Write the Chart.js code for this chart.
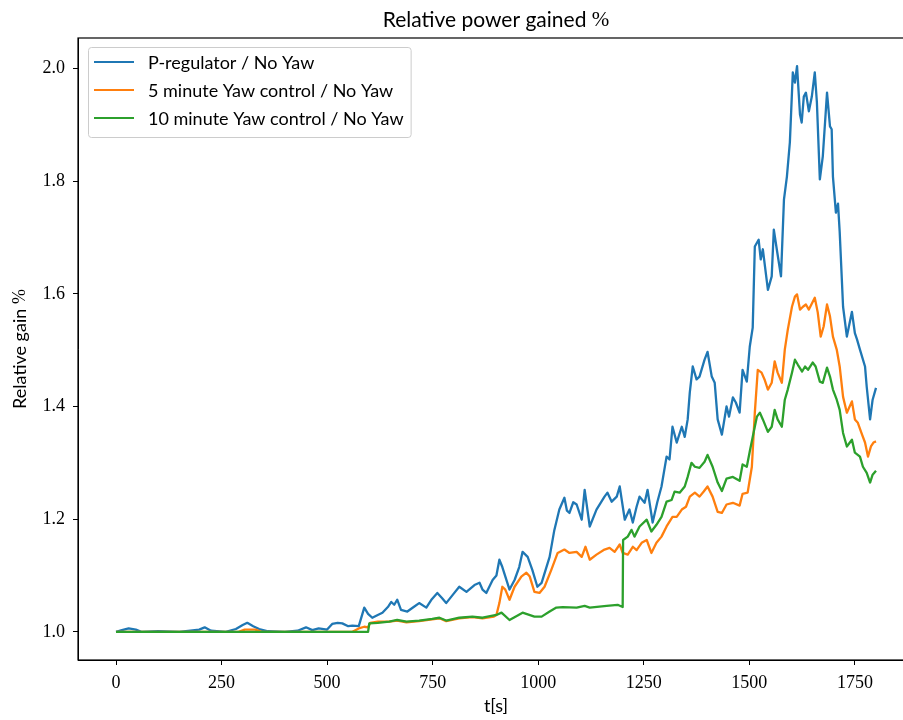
<!DOCTYPE html>
<html>
<head>
<meta charset="utf-8">
<title>Relative power gained</title>
<script src="https://cdn.jsdelivr.net/npm/chart.js@4.4.1/dist/chart.umd.min.js"></script>
<style>
  html, body { margin: 0; padding: 0; background: #fff; overflow: hidden; }
  #wrap { width: 916px; height: 720px; }
</style>
</head>
<body>
<div id="wrap"><canvas id="gainChart" width="916" height="720"></canvas></div>
<script>
// P-regulator / No Yaw
const tP = [0, 14, 30, 47, 60, 100, 150, 197, 210, 225, 260, 284, 300, 311, 325, 339, 360, 400, 430, 450,
  465, 480, 500, 512, 525, 536, 550, 560, 575, 588, 597, 607, 620, 631, 645, 652, 659, 666, 675, 690,
  705, 718, 735, 748, 761, 772, 782, 798, 813, 830, 849, 861, 868, 877, 892, 901, 908, 915, 932, 944,
  955, 963, 975, 986, 998, 1008, 1027, 1038, 1050, 1062, 1068, 1074, 1083, 1091, 1103, 1110, 1122, 1138, 1157, 1164,
  1174, 1186, 1193, 1205, 1216, 1224, 1233, 1240, 1252, 1259, 1271, 1282, 1292, 1304, 1311, 1318, 1328, 1340, 1347, 1354,
  1359, 1366, 1375, 1382, 1394, 1401, 1411, 1418, 1425, 1435, 1446, 1452, 1461, 1468, 1477, 1484, 1494, 1501, 1508, 1513,
  1522, 1527, 1532, 1544, 1553, 1558, 1565, 1575, 1582, 1589, 1596, 1603, 1608, 1613, 1620, 1624, 1629, 1634, 1641, 1648,
  1655, 1660, 1667, 1674, 1684, 1691, 1695, 1698, 1705, 1710, 1714, 1722, 1731, 1743, 1750, 1755, 1762, 1774, 1778, 1786,
  1792, 1800];
const gainP = [1.000, 1.003, 1.006, 1.004, 1.000, 1.001, 1.000, 1.004, 1.008, 1.002, 1.000, 1.005, 1.012, 1.016, 1.010, 1.005, 1.001, 1.000, 1.002, 1.008,
  1.003, 1.006, 1.004, 1.014, 1.016, 1.015, 1.010, 1.011, 1.010, 1.043, 1.032, 1.025, 1.030, 1.034, 1.045, 1.053, 1.048, 1.057, 1.039, 1.036,
  1.044, 1.051, 1.043, 1.058, 1.069, 1.060, 1.051, 1.066, 1.080, 1.071, 1.083, 1.087, 1.075, 1.069, 1.092, 1.100, 1.128, 1.115, 1.075, 1.092,
  1.115, 1.142, 1.133, 1.110, 1.080, 1.087, 1.133, 1.180, 1.217, 1.238, 1.215, 1.211, 1.230, 1.226, 1.199, 1.252, 1.187, 1.217, 1.240, 1.247,
  1.231, 1.240, 1.258, 1.199, 1.217, 1.194, 1.222, 1.240, 1.229, 1.252, 1.194, 1.230, 1.258, 1.311, 1.306, 1.364, 1.336, 1.364, 1.346, 1.377,
  1.425, 1.471, 1.448, 1.453, 1.483, 1.497, 1.453, 1.442, 1.377, 1.350, 1.400, 1.382, 1.416, 1.407, 1.389, 1.465, 1.444, 1.506, 1.540, 1.684,
  1.696, 1.661, 1.679, 1.607, 1.631, 1.714, 1.679, 1.631, 1.767, 1.808, 1.869, 1.993, 1.975, 2.004, 1.918, 1.904, 1.950, 1.957, 1.924, 1.950,
  1.993, 1.940, 1.803, 1.844, 1.957, 1.897, 1.892, 1.808, 1.744, 1.760, 1.710, 1.577, 1.524, 1.568, 1.530, 1.519, 1.501, 1.471, 1.435, 1.377,
  1.412, 1.433];

// 5 minute Yaw control / No Yaw
const t5 = [0, 290, 305, 330, 345, 560, 575, 588, 597, 602, 620, 647, 666, 688, 718, 749, 766, 782, 813, 844,
  868, 895, 901, 908, 915, 922, 932, 944, 960, 972, 980, 991, 1003, 1015, 1031, 1046, 1062, 1074, 1091, 1103,
  1112, 1122, 1138, 1157, 1169, 1181, 1193, 1200, 1212, 1224, 1233, 1245, 1257, 1268, 1280, 1292, 1304, 1318, 1328, 1340,
  1350, 1359, 1371, 1382, 1392, 1401, 1413, 1425, 1435, 1446, 1461, 1477, 1484, 1496, 1506, 1513, 1520, 1529, 1536, 1544,
  1553, 1560, 1567, 1577, 1584, 1591, 1601, 1608, 1613, 1620, 1627, 1634, 1641, 1655, 1662, 1669, 1676, 1684, 1691, 1698,
  1707, 1714, 1722, 1731, 1743, 1750, 1757, 1767, 1774, 1781, 1788, 1794, 1800];
const gain5 = [1.000, 1.000, 1.004, 1.004, 1.000, 1.000, 1.006, 1.009, 1.008, 1.016, 1.018, 1.018, 1.020, 1.017, 1.019, 1.022, 1.024, 1.019, 1.024, 1.026,
  1.024, 1.027, 1.030, 1.051, 1.080, 1.075, 1.057, 1.080, 1.098, 1.105, 1.098, 1.071, 1.069, 1.080, 1.110, 1.140, 1.146, 1.140, 1.142, 1.133,
  1.151, 1.128, 1.137, 1.146, 1.149, 1.142, 1.155, 1.140, 1.137, 1.151, 1.145, 1.158, 1.163, 1.140, 1.158, 1.169, 1.187, 1.204, 1.204, 1.217,
  1.222, 1.240, 1.247, 1.240, 1.249, 1.258, 1.240, 1.213, 1.211, 1.226, 1.229, 1.224, 1.245, 1.247, 1.293, 1.389, 1.465, 1.460, 1.448, 1.430,
  1.442, 1.480, 1.460, 1.442, 1.501, 1.536, 1.577, 1.595, 1.599, 1.572, 1.577, 1.581, 1.572, 1.593, 1.567, 1.524, 1.542, 1.581, 1.560, 1.524,
  1.501, 1.471, 1.417, 1.389, 1.409, 1.377, 1.371, 1.350, 1.336, 1.311, 1.329, 1.336, 1.338];

// 10 minute Yaw control / No Yaw
const t10 = [0, 597, 600, 620, 647, 666, 688, 718, 749, 766, 782, 813, 844, 868, 901, 913, 932, 963, 991, 1008,
  1027, 1043, 1058, 1091, 1110, 1122, 1162, 1188, 1200, 1201, 1212, 1221, 1228, 1240, 1257, 1268, 1280, 1292, 1304, 1316,
  1323, 1335, 1347, 1354, 1363, 1371, 1382, 1394, 1401, 1413, 1425, 1435, 1446, 1461, 1477, 1484, 1494, 1501, 1508, 1518,
  1525, 1532, 1544, 1553, 1560, 1567, 1577, 1584, 1591, 1601, 1608, 1615, 1625, 1632, 1639, 1650, 1657, 1667, 1674, 1684,
  1691, 1698, 1707, 1714, 1722, 1731, 1743, 1750, 1762, 1769, 1778, 1786, 1792, 1800];
const gain10 = [1.000, 1.000, 1.015, 1.016, 1.018, 1.021, 1.018, 1.020, 1.023, 1.025, 1.020, 1.025, 1.027, 1.025, 1.030, 1.034, 1.021, 1.034, 1.027, 1.027,
  1.036, 1.043, 1.044, 1.043, 1.046, 1.043, 1.046, 1.048, 1.044, 1.163, 1.169, 1.181, 1.169, 1.187, 1.199, 1.178, 1.190, 1.204, 1.231, 1.234,
  1.249, 1.247, 1.258, 1.275, 1.300, 1.293, 1.291, 1.302, 1.314, 1.293, 1.265, 1.250, 1.272, 1.275, 1.268, 1.297, 1.293, 1.320, 1.346, 1.382,
  1.389, 1.377, 1.355, 1.364, 1.394, 1.377, 1.364, 1.412, 1.430, 1.460, 1.483, 1.474, 1.462, 1.471, 1.465, 1.478, 1.471, 1.444, 1.442, 1.469,
  1.453, 1.430, 1.412, 1.394, 1.353, 1.329, 1.341, 1.318, 1.311, 1.293, 1.282, 1.265, 1.279, 1.286];

const seriesNames = ['P-regulator / No Yaw', '5 minute Yaw control / No Yaw', '10 minute Yaw control / No Yaw'];
const seriesColors = ['#1f77b4', '#ff7f0e', '#2ca02c'];
const xTicks = [0, 250, 500, 750, 1000, 1250, 1500, 1750];
const yTicks = [1.0, 1.2, 1.4, 1.6, 1.8, 2.0];

const SANS = 'Lato, "DejaVu Sans", sans-serif';
const SERIF = '"Liberation Serif", "DejaVu Serif", serif';

function toPoints(ts, vs) {
    return ts.map((t, i) => ({ x: t, y: vs[i] }));
}

// text with a serif "%" at the end, like a mathtext percent sign
function drawLabel(ctx, text, size, x, y) {
    const body = text.slice(0, -1);
    ctx.font = size + 'px ' + SANS;
    const w1 = ctx.measureText(body).width;
    ctx.font = size + 'px ' + SERIF;
    const w2 = ctx.measureText('%').width;
    let cx = x - (w1 + w2) / 2;
    ctx.textAlign = 'left';
    ctx.textBaseline = 'middle';
    ctx.font = size + 'px ' + SANS;
    ctx.fillText(body, cx, y);
    ctx.font = size + 'px ' + SERIF;
    ctx.fillText('%', cx + w1, y);
}

// title, y label, box around the axes and a matplotlib-like legend
const frameAndLegend = {
    id: 'frameAndLegend',
    afterDatasetsDraw(chart) {
        const ctx = chart.ctx;
        const a = chart.chartArea;
        ctx.save();
        ctx.strokeStyle = '#000';
        ctx.lineWidth = 1.2;
        ctx.strokeRect(a.left, a.top, a.right - a.left, a.bottom - a.top);

        ctx.fillStyle = '#000';
        drawLabel(ctx, 'Relative power gained %', 21, (a.left + a.right) / 2, 20);
        ctx.save();
        ctx.translate(20, (a.top + a.bottom) / 2);
        ctx.rotate(-Math.PI / 2);
        drawLabel(ctx, 'Relative gain %', 18, 0, 0);
        ctx.restore();

        ctx.font = '18px ' + SANS;
        const labels = chart.data.datasets.map(d => d.label);
        const maxW = Math.max(...labels.map(l => ctx.measureText(l).width));
        const x0 = a.left + 10, y0 = a.top + 9;
        const w = 60 + maxW + 7, h = 90;
        ctx.fillStyle = 'rgba(255,255,255,0.8)';
        ctx.strokeStyle = '#cccccc';
        ctx.lineWidth = 1;
        ctx.beginPath();
        ctx.roundRect(x0 + 0.5, y0 + 0.5, w, h, 3);
        ctx.fill();
        ctx.stroke();

        ctx.textAlign = 'left';
        ctx.textBaseline = 'middle';
        chart.data.datasets.forEach((d, i) => {
            const y = y0 + 15 + i * 28;
            ctx.strokeStyle = d.borderColor;
            ctx.lineWidth = 2.2;
            ctx.beginPath();
            ctx.moveTo(x0 + 6, y);
            ctx.lineTo(x0 + 46, y);
            ctx.stroke();
            ctx.fillStyle = '#000';
            ctx.fillText(d.label, x0 + 60, y + 1);
        });
        ctx.restore();
    }
};

const datasets = [
    { label: seriesNames[0], data: toPoints(tP, gainP), borderColor: seriesColors[0], order: 2 },
    { label: seriesNames[1], data: toPoints(t5, gain5), borderColor: seriesColors[1], order: 1 },
    { label: seriesNames[2], data: toPoints(t10, gain10), borderColor: seriesColors[2], order: 0 },
].map(d => Object.assign(d, { borderWidth: 2.3, pointRadius: 0, tension: 0, fill: false, borderJoinStyle: 'round' }));

const ctx = document.getElementById('gainChart').getContext('2d');
const gainChart = new Chart(ctx, {
    type: 'line',
    data: { datasets: datasets },
    options: {
        responsive: false,
        animation: false,
        devicePixelRatio: 1,
        layout: { padding: { left: 0, right: 2, top: 38, bottom: 0 } },
        plugins: {
            legend: { display: false },
            tooltip: { enabled: false },
            title: { display: false },
        },
        scales: {
            x: {
                type: 'linear',
                min: -90,
                max: 1890,
                afterBuildTicks: s => { s.ticks = xTicks.map(v => ({ value: v })); },
                afterFit: s => { s.height = 60; },
                ticks: {
                    color: '#000',
                    font: { family: SERIF, size: 18 },
                    padding: 7,
                    maxRotation: 0,
                    autoSkip: false,
                    callback: v => String(v),
                },
                grid: { drawOnChartArea: false, tickLength: 5, color: '#000' },
                border: { color: '#000' },
                title: {
                    display: true,
                    text: 't[s]',
                    color: '#000',
                    font: { family: SANS, size: 18 },
                    padding: { top: 2, bottom: 3 },
                },
            },
            y: {
                type: 'linear',
                min: 0.95,
                max: 2.054,
                afterBuildTicks: s => { s.ticks = yTicks.map(v => ({ value: v })); },
                afterFit: s => { s.width = 78; },
                ticks: {
                    color: '#000',
                    font: { family: SERIF, size: 18 },
                    padding: 8,
                    callback: v => v.toFixed(1),
                },
                grid: { drawOnChartArea: false, tickLength: 5, color: '#000' },
                border: { color: '#000' },
            },
        },
    },
    plugins: [frameAndLegend],
});
</script>
</body>
</html>
